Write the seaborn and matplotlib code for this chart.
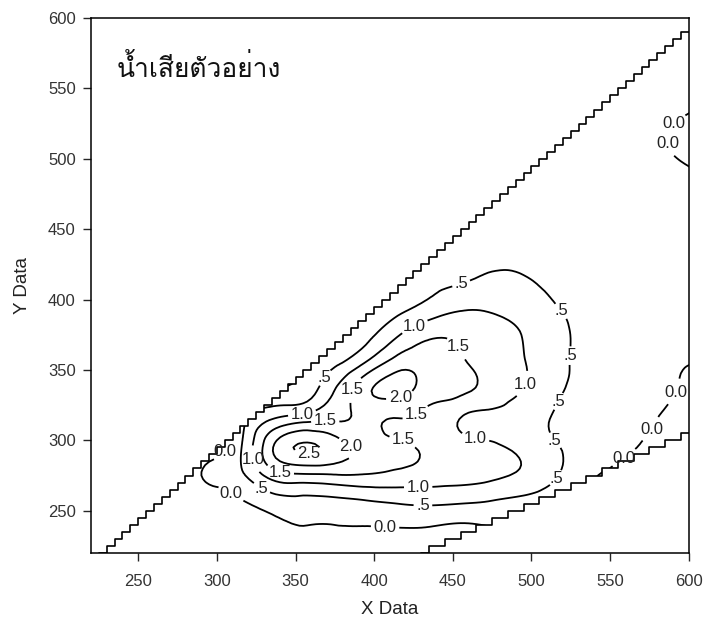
import numpy as np
import matplotlib
matplotlib.use("Agg")
import matplotlib.pyplot as plt
import matplotlib.tri as mtri
from matplotlib.patches import Polygon
from matplotlib import font_manager
from matplotlib.ft2font import FT2Font
import seaborn as sns

# === Data ===
title_text = "น้ำเสียตัวอย่าง"
x_label = "X Data"
y_label = "Y Data"

# coarse sampling grid (nm), 20 nm apart; row j starts at column j (the diagonal)
grid_x = [215, 235, 255, 275, 295, 315, 335, 355, 375, 395, 415,
          435, 455, 475, 495, 515, 535, 555, 575, 595, 615]
grid_y = [215, 235, 255, 275, 295, 315, 335, 355, 375, 395, 415,
          435, 455, 475, 495, 515, 535, 555, 575, 595, 615]

# intensity, one list per grid_y row
intensity = [
    [-0.50, -0.55, -0.55, -0.55, -0.55, -0.50, -0.45, -0.35, -0.30, -0.30, -0.30, -0.30, -0.30],
    [-0.55, -0.55, -0.55, -0.55, -0.45, -0.15, -0.05, -0.05, -0.05, -0.05, -0.08, -0.15, -0.05, 0.00],
    [-0.60, -0.55, -0.40, -0.10, 0.20, 0.30, 0.32, 0.40, 0.50, 0.55, 0.50, 0.42, 0.32, 0.20, 0.05],
    [-0.60, 0.10, 0.40, 1.20, 1.40, 1.45, 1.45, 1.35, 1.25, 1.20, 1.10, 0.90, 0.55, 0.10, -0.10, -0.20],
    [-0.40, 0.45, 1.95, 2.56, 2.25, 1.85, 1.60, 1.40, 1.25, 1.10, 0.85, 0.55, 0.30, 0.10, -0.05, -0.10, -0.15],
    [0.35, 1.00, 1.30, 1.45, 1.60, 1.48, 1.30, 0.98, 0.85, 0.70, 0.45, 0.25, 0.10, 0.03, -0.10, -0.15],
    [0.10, 0.20, 1.02, 1.90, 2.15, 1.75, 1.60, 1.30, 0.98, 0.60, 0.35, 0.20, 0.10, -0.02, -0.12],
    [0.10, 0.40, 1.05, 1.75, 1.75, 1.58, 1.25, 1.02, 0.65, 0.40, 0.28, 0.20, 0.03, 0.05],
    [0.10, 0.35, 0.95, 1.40, 1.40, 1.20, 0.98, 0.65, 0.40, 0.30, 0.25, 0.20, 0.15],
    [0.10, 0.35, 0.65, 0.90, 0.90, 0.75, 0.52, 0.35, 0.28, 0.25, 0.20, 0.18],
    [0.15, 0.35, 0.45, 0.55, 0.52, 0.40, 0.30, 0.25, 0.22, 0.20, 0.18],
    [0.20, 0.35, 0.40, 0.38, 0.32, 0.28, 0.25, 0.22, 0.20, 0.18],
    [0.20, 0.30, 0.30, 0.28, 0.25, 0.22, 0.20, 0.18, 0.15],
    [0.20, 0.25, 0.25, 0.22, 0.20, 0.18, 0.12, 0.10],
    [0.20, 0.22, 0.20, 0.18, 0.15, 0.03, -0.10],
    [0.20, 0.18, 0.15, 0.12, -0.10, -0.20],
    [0.18, 0.15, 0.12, 0.05, -0.10],
    [0.15, 0.10, 0.05, 0.05],
    [0.10, 0.08, 0.05],
    [0.10, 0.08],
    [0.10],
]

levels = [0.0, 0.5, 1.0, 1.5, 2.0, 2.5]
level_text = {0.0: "0.0", 0.5: ".5", 1.0: "1.0", 1.5: "1.5", 2.0: "2.0", 2.5: "2.5"}

# where the contour labels sit
label_spots = {
    0.0: [(306, 292), (310, 264), (407, 239), (592, 334), (573, 310), (558, 289), (592, 523), (588, 511)],
    0.5: [(372, 342), (456, 409), (518, 391), (526, 360), (520, 326), (515, 300), (516, 273), (431, 253), (329, 267)],
    1.0: [(354, 321), (427, 378), (497, 339), (464, 300), (428, 266), (321, 286)],
    1.5: [(369, 313), (390, 334), (453, 366), (426, 320), (418, 299), (340, 277)],
    2.0: [(416, 337), (383, 293)],
    2.5: [(358, 293)],
}

# scatter masks of the 5 nm measuring grid
scan_step = 5
rayleigh_offset = 5      # cells above y = x - offset are blank
second_order_offset = 5  # cells below y = x/2 + offset are blank
axis_lo, axis_hi = 220, 600


def pick_font(text):
    # first installed font that carries every glyph of the text
    for entry in font_manager.fontManager.ttflist:
        try:
            charmap = FT2Font(entry.fname).get_charmap()
        except Exception:
            continue
        if all(ord(ch) in charmap for ch in text if not ch.isspace()):
            return entry.name
    return "DejaVu Sans"


# === Style ===
sns.set_style("ticks")
plt.rcParams['font.family'] = ['Liberation Sans', 'DejaVu Sans']
plt.rcParams['axes.edgecolor'] = 'black'
plt.rcParams['axes.linewidth'] = 1.1

# === Build the field ===
px, py, pz = [], [], []
for j, row in enumerate(intensity):
    for k, val in enumerate(row):
        px.append(grid_x[j + k])
        py.append(grid_y[j])
        pz.append(val)
px, py, pz = np.array(px, float), np.array(py, float), np.array(pz, float)

tri = mtri.Triangulation(px, py)
tri_fine, z_fine = mtri.UniformTriRefiner(tri).refine_field(pz, subdiv=3)

# staircase edges of the blank regions
up_x = np.arange(axis_lo + scan_step, axis_hi, scan_step)
up_y = up_x - rayleigh_offset
lo_x = np.arange(430, axis_hi, scan_step)
lo_y = np.ceil((lo_x / 2 + second_order_offset) / scan_step) * scan_step
lo_y = np.maximum(lo_y, axis_lo)

verts = [(up_x[0], axis_lo - 20)]
for xv, yv in zip(up_x, up_y):
    verts += [(xv, yv), (xv + scan_step, yv)]
verts += [(axis_hi + 10, up_y[-1]), (axis_hi + 10, lo_y[-1])]
for xv, yv in zip(lo_x[::-1], lo_y[::-1]):
    verts += [(xv + scan_step, yv), (xv, yv)]
verts += [(lo_x[0], axis_lo - 20)]

# === Plot ===
fig = plt.figure(figsize=(7.04, 6.22), dpi=100)
ax = fig.add_axes([0.1293, 0.111, 0.849, 0.860])

for lev in levels:
    cs = ax.tricontour(tri_fine, z_fine, levels=[lev], colors='black', linewidths=1.3)
    clip = Polygon(verts, closed=True, transform=ax.transData, facecolor='none', edgecolor='none')
    cs.set_clip_path(clip)
    texts = ax.clabel(cs, manual=label_spots[lev], inline=True, inline_spacing=2,
                      fmt=level_text, fontsize=12, colors='#222222')
    for txt in texts:
        txt.set_rotation(0)

ax.step(np.append(up_x, axis_hi), np.append(up_y, up_y[-1]), where='post', color='black', lw=1.2)
ax.step(np.append(lo_x, axis_hi), np.append(lo_y, lo_y[-1]), where='post', color='black', lw=1.2)

ax.set_xlim(axis_lo, axis_hi)
ax.set_ylim(axis_lo, axis_hi)
ax.set_xticks(np.arange(250, 601, 50))
ax.set_yticks(np.arange(250, 601, 50))
ax.tick_params(axis='both', direction='out', length=6, width=1, labelsize=12,
               labelcolor='#333333', pad=5)
ax.tick_params(axis='x', pad=9)
ax.set_xlabel(x_label, fontsize=13.5, color='#222222', labelpad=9)
ax.set_ylabel(y_label, fontsize=13.5, color='#222222', labelpad=12)

thai_font = pick_font(title_text)
ax.text(0.043, 0.89, title_text, transform=ax.transAxes, fontsize=19,
        family=[thai_font, 'DejaVu Sans'], va='baseline', ha='left', color='#111111')

fig.savefig("out.png", dpi=100)
